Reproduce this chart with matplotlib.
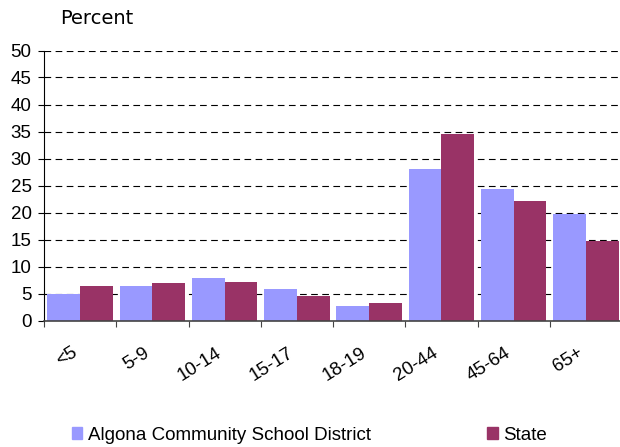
import numpy as np
import matplotlib
matplotlib.use("Agg")
import matplotlib.pyplot as plt
from matplotlib.patches import Patch

# age groups and percentages
ageGroups = ["<5", "5-9", "10-14", "15-17", "18-19", "20-44", "45-64", "65+"]
district = [5.0, 6.3, 7.8, 5.9, 2.6, 28.0, 24.3, 19.7]
state = [6.3, 6.9, 7.2, 4.5, 3.2, 34.6, 22.1, 14.8]
yTicks = [0, 5, 10, 15, 20, 25, 30, 35, 40, 45, 50]

blue = "#9999FF"
plum = "#993366"

plt.rcParams["font.family"] = ["Liberation Sans", "DejaVu Sans"]

fig = plt.figure(figsize=(6.2, 4.47), dpi=100)
ax = fig.add_axes([44 / 620, 1 - 320.5 / 447, 578 / 620, 270 / 447])

x = np.arange(len(ageGroups))
w = 0.455
ax.bar(x - w / 2, district, width=w, color=blue, zorder=3)
ax.bar(x + w / 2, state, width=w, color=plum, zorder=3)

ax.set_xlim(-0.5, len(ageGroups) - 0.5)
ax.set_ylim(0, 50)
ax.set_yticks(yTicks)
for t in yTicks[1:]:
    ax.axhline(t, color="black", lw=0.8, ls=(0, (6, 4)), zorder=1)

ax.spines["top"].set_visible(False)
ax.spines["right"].set_visible(False)
ax.spines["left"].set_color("black")
ax.spines["bottom"].set_color("#444444")
ax.spines["bottom"].set_linewidth(1.2)
ax.spines["bottom"].set_zorder(4)

ax.tick_params(axis="y", length=4, width=0.8, pad=5, labelsize=13.5)

# ticks on category boundaries, labels at category centres
ax.set_xticks(np.arange(len(ageGroups)) - 0.5)
ax.set_xticklabels([])
ax.tick_params(axis="x", which="major", length=4, width=0.8, color="#444444")
ax.set_xticks(x, minor=True)
ax.set_xticklabels(ageGroups, minor=True, rotation=32, ha="right", va="top", fontsize=13.5)
ax.tick_params(axis="x", which="minor", length=0, pad=17)

fig.text(60 / 620, 1 - 19 / 447, "Percent", fontsize=14, family="DejaVu Sans", va="center")

handles = [Patch(color=blue, label="Algona Community School District"),
           Patch(color=plum, label="State")]
fig.legend(handles=handles, loc="center left", bbox_to_anchor=(72 / 620, 1 - 435 / 447),
           ncol=2, frameon=False, fontsize=13.5, handlelength=0.55, handleheight=0.6,
           handletextpad=0.3, columnspacing=6.2, borderaxespad=0, borderpad=0)

fig.savefig("out.png", dpi=100)
